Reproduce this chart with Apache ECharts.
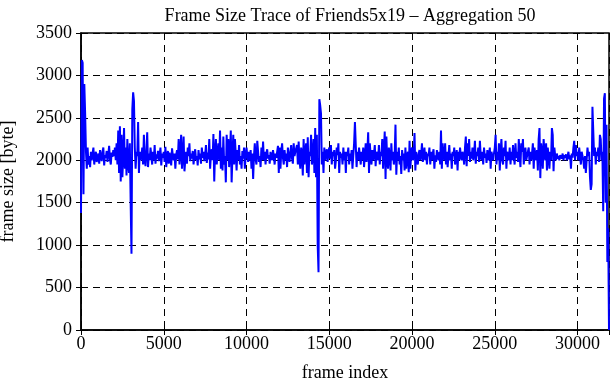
<!DOCTYPE html>
<html>
<head>
<meta charset="utf-8">
<script src="https://cdn.jsdelivr.net/npm/echarts@6/dist/echarts.min.js"></script>
<style>html,body{margin:0;padding:0;background:#fff;}#c{width:611px;height:380px;}</style>
</head>
<body>
<div id="c"></div>
<script>
const titleText = "Frame Size Trace of Friends5x19 \u2013 Aggregation 50";
const xName = "frame index";
const yName = "frame size [byte]";
const frameStep = 50;
const xTicks = [0, 5000, 10000, 15000, 20000, 25000, 30000];
const yTicks = [0, 500, 1000, 1500, 2000, 2500, 3000, 3500];

// aggregated frame sizes (one value per 50 frames)
const seg00 = [1380,3180,3150,1600,2900,2550,2100,1900,2150,1950,2050,1920,2100,2000,2080,2150,1950,2050,2100,1980];
const seg01 = [2000,2080,1960,2120,2050,1990,2100,2150,1940,2060,2030,2110,1980,2070,2170,2010,1950,2090,2040,2120];
const seg02 = [2050,2150,2000,2200,1950,2350,1850,2400,1750,2300,1800,2050,2380,1900,2150,1820,2250,1950,1850,2200];
const seg03 = [1500,900,2600,2800,2700,2150,1900,2100,2050,2450,1850,2100,2000,2050,2150,1950,2300,2000,1930,2100];
const seg04 = [2330,1920,2080,2000,2150,2050,1950,2100,2000,2180,1960,2070,2020,2110,1990,2060,2150,1940,2080,2030];
const seg05 = [2100,1980,2160,1920,2050,2110,1960,2090,2020,1940,2140,2050,2000,2080,1900,2060,2120,2010,2250,1950];
const seg06 = [2100,2300,1900,2050,2280,1870,2000,2100,1960,2150,2050,2200,1990,2080,2020,2110,1950,2060,2130,2000];
const seg07 = [2050,1940,2120,2010,2080,1960,2150,2030,2100,1990,2060,2180,1970,2090,2010,2250,1900,2070,2130,2000];
const seg08 = [2310,1750,2100,2250,1950,2080,2200,2000,2350,1900,2150,1880,2280,1950,2050,1740,2300,2000,2250,1920];
const seg09 = [2100,2350,1740,2050,2300,1950,2250,2080,1880,2120,2000,2180,1950,2050,1900,2110,2020,2150,1900,2060];
const seg10 = [2150,2050,1980,2100,2000,2120,1900,2080,1780,2050,2200,2010,1950,2230,2100,1980,2050,1920,2150,2000];
const seg11 = [2220,2000,2100,1950,2080,2130,2020,2060,1960,2100,2040,2000,2120,2050,1950,2080,2030,2100,2170,1850];
const seg12 = [2150,1900,2100,2200,2030,1950,2120,2000,2080,1920,2150,2050,1980,2100,2180,2020,1960,2200,2050,2100];
const seg13 = [2100,2180,1950,2220,2000,1900,2150,2080,1820,2250,1950,2100,2200,1850,2270,1800,2100,2050,2300,1950];
const seg14 = [2050,2250,1850,2380,1800,2300,1000,680,2720,2650,2550,1950,2100,1850,2150,2000,2080,2130,1980,2100];
const seg15 = [2150,2020,2180,1950,2100,2050,2120,1900,2000,2150,2060,2200,1850,2100,2030,2080,1950,2150,2000,2100];
const seg16 = [1850,2100,2050,2150,1950,2080,2000,2120,1900,2050,2200,2450,2430,1920,2100,2000,2150,2050,1950,2100];
const seg17 = [2000,2150,1920,2050,2200,1980,2100,2330,1850,2200,2050,1950,2120,2000,2080,2180,1930,2100,2050,2000];
const seg18 = [2180,1950,2100,2050,2250,1900,2120,2340,1780,2280,2000,1900,2150,2050,1880,2200,2000,2100,1950,2050];
const seg19 = [2420,1830,2100,2000,2150,1950,2050,1840,2120,2000,2080,1880,2150,1900,2050,2100,1860,2230,1900,2100];
const seg20 = [2150,2000,2050,2320,1880,2100,2020,1950,2080,2120,2000,2060,2200,1980,2050,2150,2000,2100,1950,2080];
const seg21 = [2050,2150,1950,2100,2000,2080,2130,1900,2060,1980,2120,2050,2000,2100,1950,2350,1900,2200,2050,2000];
const seg22 = [2200,1950,2100,1920,2050,2180,2000,2080,1900,2100,2050,2150,1950,2030,2120,1880,2100,2000,2150,2050];
const seg23 = [2000,2100,2050,1950,2150,2280,1930,2200,2050,2250,1980,2100,2020,2150,2000,2080,2230,1960,2100,2050];
const seg24 = [2150,1980,2230,2050,2000,2100,1950,2150,2030,2080,1970,2120,2000,2060,2150,1900,2100,2050,2000,2080];
const seg25 = [2150,2300,1950,2100,2000,2200,1880,2100,2250,2000,1950,2150,2050,2230,1900,2100,2050,2000,2150,1950];
const seg26 = [2100,2000,2180,2050,1950,2200,2030,2100,1980,2250,2050,1920,2200,2100,2250,1950,2080,2150,2000,2050];
const seg27 = [2050,2150,1950,2100,2000,2080,2200,1900,2150,2050,2000,2120,1880,2250,2380,1790,2200,2100,1900,2250];
const seg28 = [2100,2000,2200,1880,2150,2050,1900,2100,2000,2380,2300,1870,2150,2050,2000,2080,2020,2050,2000,2060];
const seg29 = [2050,2020,2080,2000,2060,2030,2070,2000,2050,2100,2010,2060,1900,2080,2030,2150,2230,2000,2180,2050];
const seg30 = [2100,2000,2150,2050,1950,2100,2050,2000,1900,2050,1850,2000,2150,2050,2100,1800,1650,1720,2630,2650];
const seg31 = [2050,2150,1950,2100,2050,2150,1980,2300,2250,2000,2100,1400,2730,2790,1500,2420,800,1200,0];

const sizes = [].concat(seg00,seg01,seg02,seg03,seg04,seg05,seg06,seg07,seg08,seg09,seg10,seg11,seg12,seg13,seg14,seg15,seg16,seg17,seg18,seg19,seg20,seg21,seg22,seg23,seg24,seg25,seg26,seg27,seg28,seg29,seg30,seg31);
const points = sizes.map((v, i) => [i * frameStep, v]);
const xMax = (sizes.length - 1) * frameStep;

const FONT = "Liberation Serif";
const dashed = {show: true, lineStyle: {color: '#000', type: [7, 5], width: 1}};
const chart = echarts.init(document.getElementById('c'), null, {renderer: 'canvas'});
chart.setOption({
  animation: false,
  backgroundColor: '#fff',
  title: {
    text: titleText, left: 345, top: 2, textAlign: 'center',
    textStyle: {fontFamily: FONT, fontSize: 18, fontWeight: 'normal', color: '#000'}
  },
  grid: {left: 81, right: 2, top: 33, bottom: 50, outerBoundsMode: 'none', containLabel: false,
    show: true, borderColor: '#000', borderWidth: 1.5, backgroundColor: 'transparent'},
  xAxis: [{
    type: 'value', min: 0, max: xMax, interval: 5000,
    name: xName, nameLocation: 'middle', nameGap: 34,
    nameTextStyle: {fontFamily: FONT, fontSize: 18, color: '#000'},
    axisLine: {show: true, lineStyle: {color: '#000', width: 1.5}},
    axisTick: {show: true, inside: true, length: 5, lineStyle: {color: '#000'}},
    axisLabel: {fontFamily: FONT, fontSize: 18, color: '#000', margin: 5, showMaxLabel: false,
      formatter: v => xTicks.indexOf(v) >= 0 ? String(v) : ''},
    splitLine: dashed
  }, {
    type: 'value', min: 0, max: xMax, interval: 5000, position: 'top',
    axisLine: {show: false}, axisLabel: {show: false}, splitLine: {show: false},
    axisTick: {show: true, inside: true, length: 5, lineStyle: {color: '#000'}}
  }],
  yAxis: [{
    type: 'value', min: 0, max: 3500, interval: 500,
    name: yName, nameLocation: 'middle', nameGap: 64, nameRotate: 90,
    nameTextStyle: {fontFamily: FONT, fontSize: 18, color: '#000'},
    axisLine: {show: true, lineStyle: {color: '#000', width: 1.5}},
    axisTick: {show: true, inside: true, length: 5, lineStyle: {color: '#000'}},
    axisLabel: {fontFamily: FONT, fontSize: 18, color: '#000', margin: 9,
      formatter: v => yTicks.indexOf(v) >= 0 ? String(v) : ''},
    splitLine: dashed
  }, {
    type: 'value', min: 0, max: 3500, interval: 500, position: 'right',
    axisLine: {show: false}, axisLabel: {show: false}, splitLine: {show: false},
    axisTick: {show: true, inside: true, length: 5, lineStyle: {color: '#000'}}
  }],
  series: [{
    type: 'line', data: points, showSymbol: false, symbol: 'none',
    lineStyle: {color: '#0000ff', width: 2}, z: 3
  }]
});
</script>
</body>
</html>
